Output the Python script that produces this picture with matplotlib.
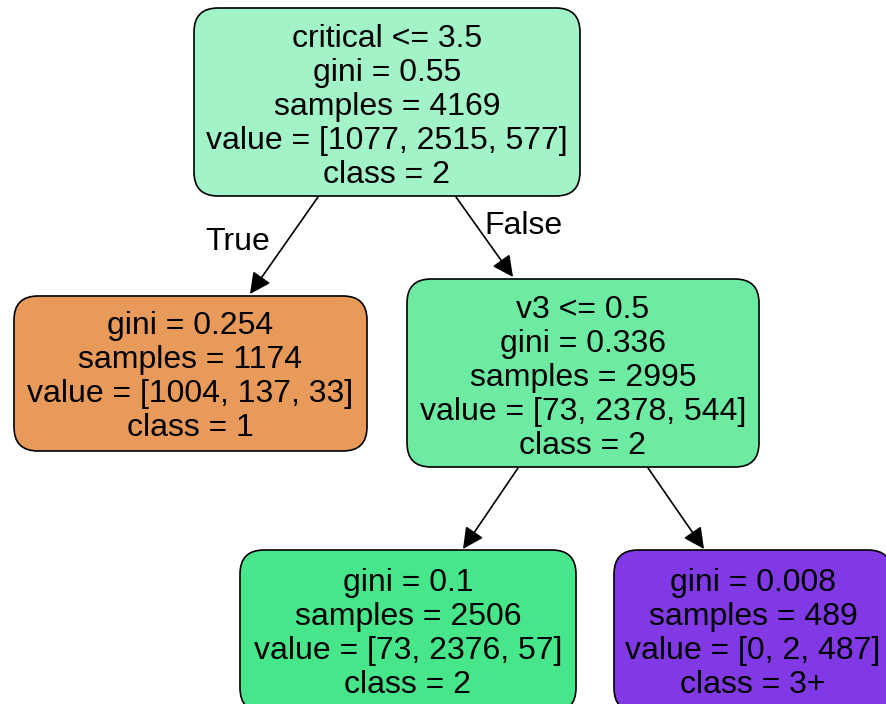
import matplotlib.pyplot as plt
from matplotlib.patches import FancyBboxPatch, FancyArrowPatch

# node contents
features = ["critical <= 3.5", None, "v3 <= 0.5", None, None]
ginis = [0.55, 0.254, 0.336, 0.1, 0.008]
samples = [4169, 1174, 2995, 2506, 489]
values = [[1077, 2515, 577], [1004, 137, 33], [73, 2378, 544], [73, 2376, 57], [0, 2, 487]]
classes = ["2", "1", "2", "2", "3+"]
colors = ["#a3f3c8", "#e89a5b", "#6deba3", "#47e68a", "#8139e5"]
edges = [(0, 1), (0, 2), (2, 3), (2, 4)]
edge_labels = {(0, 1): "True", (0, 2): "False"}

# layout in pixels (x0, y0, x1, y1)
boxes = [(194, 8, 580, 196), (14, 296, 367, 451), (407, 279, 759, 467),
         (240, 550, 576, 712), (614, 550, 892, 712)]
text_y = [107, 377, 378, 634, 634]
edge_pts = {(0, 1): ((318, 197), (250, 294)), (0, 2): ((456, 197), (513, 277)),
            (2, 3): ((518, 468), (463, 549)), (2, 4): ((648, 468), (704, 549))}
label_pos = {(0, 1): (238, 242), (0, 2): (523, 226)}

plt.rcParams['font.family'] = ['Liberation Sans', 'DejaVu Sans']
fs = 23

fig = plt.figure(figsize=(8.87, 7.04), dpi=100)
ax = fig.add_axes([0, 0, 1, 1])
ax.set_xlim(0, 887)
ax.set_ylim(704, 0)
ax.axis("off")

for i in range(len(ginis)):
    x0, y0, x1, y1 = boxes[i]
    ax.add_patch(FancyBboxPatch((x0, y0), x1 - x0, y1 - y0,
                                boxstyle="round,pad=0,rounding_size=24",
                                fc=colors[i], ec="black", lw=1.2))
    lines = []
    if features[i]:
        lines.append(features[i])
    lines.append(f"gini = {ginis[i]}")
    lines.append(f"samples = {samples[i]}")
    lines.append("value = [" + ", ".join(str(v) for v in values[i]) + "]")
    lines.append(f"class = {classes[i]}")
    ax.text((x0 + x1) / 2, text_y[i], "\n".join(lines), ha="center", va="center",
            fontsize=fs, linespacing=1.18)

for e in edges:
    start, end = edge_pts[e]
    ax.add_patch(FancyArrowPatch(start, end, arrowstyle="-|>", mutation_scale=32,
                                 color="black", lw=1.2, shrinkA=0, shrinkB=0))
    if e in edge_labels:
        ax.text(*label_pos[e], edge_labels[e], ha="center", va="center", fontsize=fs)

plt.savefig("out.png", dpi=100)
